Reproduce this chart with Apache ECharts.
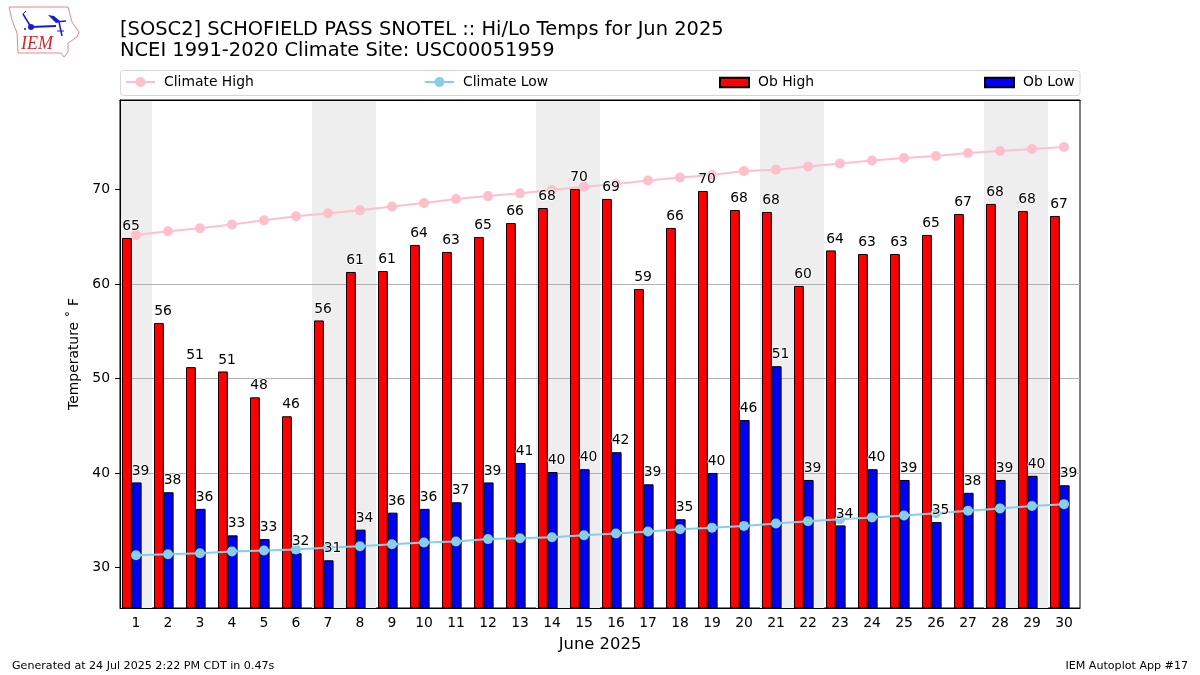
<!DOCTYPE html>
<html>
<head>
<meta charset="utf-8">
<title>Hi/Lo Temps</title>
<script src="https://cdn.jsdelivr.net/npm/echarts@6/dist/echarts.min.js"></script>
<style>
  html, body { margin: 0; padding: 0; background: #fff; }
  #J_Chart { width: 1200px; height: 675px; }
</style>
</head>
<body>
<div id="J_Chart"></div>
<script>
const days = ['1','2','3','4','5','6','7','8','9','10','11','12','13','14','15','16','17','18','19','20','21','22','23','24','25','26','27','28','29','30'];
const obHigh = [64.87,55.87,51.2,50.74,48.0,46.0,56.14,61.27,61.37,64.13,63.39,64.97,66.45,68.04,70.05,69.0,59.47,65.93,69.84,67.83,67.62,59.79,63.55,63.17,63.17,65.19,67.41,68.47,67.72,67.2];
const obLow = [39.0,37.96,36.2,33.4,33.0,31.5,30.76,34.0,35.8,36.2,36.9,39.0,41.06,40.1,40.4,42.2,38.8,35.1,40.0,45.6,51.3,39.26,34.45,40.4,39.26,34.8,37.9,39.26,39.7,38.7];
const climateHigh = [65.19,65.58,65.9,66.3,66.74,67.16,67.48,67.8,68.2,68.57,69.0,69.3,69.6,69.95,70.3,70.58,70.95,71.27,71.53,71.96,72.1,72.43,72.75,73.07,73.33,73.55,73.86,74.07,74.28,74.5];
const climateLow = [31.29,31.4,31.5,31.7,31.8,31.9,32.1,32.25,32.45,32.65,32.75,33.0,33.1,33.2,33.4,33.6,33.8,34.05,34.2,34.4,34.65,34.9,35.1,35.3,35.5,35.75,36.0,36.25,36.5,36.7];
const weekendDays = ['1','7','8','14','15','21','22','28','29'];
const yTicks = [30,40,50,60,70];

const FONT = '"DejaVu Sans"';
const Y_MIN = 25.71;
const Y_MAX = 79.47;
const BAR_WIDTH = 9.8;
const BLUE = '#1a1ad0';

const legendFor = (name, left, isBar) => ({
  data: isBar ? [{ name, icon: 'rect' }] : [name],
  left,
  top: isBar ? 75.5 : 75,
  padding: 0,
  itemWidth: 29,
  itemHeight: isBar ? 9.5 : 12.5,
  lineStyle: { width: 2 },
  textStyle: { fontFamily: FONT, fontSize: 13.9, color: '#000', padding: [0, 0, 0, 4] },
  selectedMode: false,
});

// labels sit in their own series so they stay on top of the climate lines
const labelSeries = (data, dx) => ({
  type: 'line',
  data,
  z: 8,
  silent: true,
  symbol: 'circle',
  symbolSize: 1,
  itemStyle: { color: 'transparent' },
  lineStyle: { width: 0, opacity: 0 },
  label: {
    show: true,
    position: 'top',
    distance: 4,
    offset: [dx, 0],
    color: '#000',
    fontFamily: FONT,
    fontSize: 13.9,
    textBorderColor: '#fff',
    textBorderWidth: 1.5,
    formatter: (p) => String(Math.round(p.value)),
  },
});

const logo = [
  { type: 'polyline', shape: { points: [[9,7],[68,7],[72,22],[79,32],[77,37],[68,43],[68,52],[64,57],[61,53],[18,53],[17,33],[12,20],[9,7]] },
    style: { fill: 'none', stroke: '#e08a8a', lineWidth: 1 } },
  { type: 'line', shape: { x1: 31, y1: 27, x2: 56, y2: 26 }, style: { stroke: BLUE, lineWidth: 2 } },
  { type: 'line', shape: { x1: 56, y1: 22, x2: 66, y2: 21 }, style: { stroke: BLUE, lineWidth: 1.5 } },
  { type: 'line', shape: { x1: 31, y1: 27, x2: 23, y2: 14 }, style: { stroke: BLUE, lineWidth: 1.5 } },
  { type: 'line', shape: { x1: 23, y1: 14, x2: 26, y2: 11 }, style: { stroke: BLUE, lineWidth: 1 } },
  { type: 'circle', shape: { cx: 31, cy: 27, r: 3 }, style: { fill: BLUE } },
  { type: 'polygon', shape: { points: [[48,15],[54,16],[60,21],[56,23]] }, style: { fill: BLUE } },
  { type: 'line', shape: { x1: 59, y1: 22, x2: 62, y2: 36 }, style: { stroke: BLUE, lineWidth: 1.5 } },
  { type: 'line', shape: { x1: 57, y1: 31, x2: 64, y2: 31 }, style: { stroke: BLUE, lineWidth: 1 } },
  { type: 'circle', shape: { cx: 25, cy: 29, r: 1 }, style: { fill: BLUE } },
  { type: 'text', x: 21, y: 35, style: { text: 'IEM', fontFamily: '"Liberation Serif"', fontStyle: 'italic', fontSize: 18, fill: '#d8262c' } },
];

const chart = echarts.init(document.getElementById('J_Chart'), null, { renderer: 'canvas' });
chart.setOption({
  animation: false,
  backgroundColor: '#fff',
  title: [
    { text: '[SOSC2] SCHOFIELD PASS SNOTEL :: Hi/Lo Temps for Jun 2025', left: 120, top: 20, padding: 0,
      textStyle: { fontFamily: FONT, fontSize: 19.45, fontWeight: 'normal', color: '#000' } },
    { text: 'NCEI 1991-2020 Climate Site: USC00051959', left: 120, top: 41, padding: 0,
      textStyle: { fontFamily: FONT, fontSize: 19.45, fontWeight: 'normal', color: '#000' } },
    { text: 'Generated at 24 Jul 2025 2:22 PM CDT in 0.47s', left: 12, top: 661, padding: 0,
      textStyle: { fontFamily: FONT, fontSize: 11.1, fontWeight: 'normal', color: '#000' } },
    { text: 'IEM Autoplot App #17', right: 12, top: 661, padding: 0,
      textStyle: { fontFamily: FONT, fontSize: 11.1, fontWeight: 'normal', color: '#000' } },
  ],
  legend: [
    legendFor('Climate High', 125, false),
    legendFor('Climate Low', 424, false),
    legendFor('Ob High', 719, true),
    legendFor('Ob Low', 984, true),
  ],
  graphic: [
    { type: 'rect', shape: { x: 120.5, y: 70.5, width: 959.5, height: 25, r: 3 },
      style: { fill: 'none', stroke: '#d5d5d5', lineWidth: 1 }, z: 1 },
    ...logo,
  ],
  grid: { left: 120, top: 100, width: 960, height: 508, show: true, borderColor: '#000', borderWidth: 1, backgroundColor: 'transparent' },
  xAxis: [
    {
      type: 'category',
      data: days,
      name: 'June 2025',
      nameLocation: 'middle',
      nameGap: 29,
      nameTextStyle: { fontFamily: FONT, fontSize: 16.4, color: '#000' },
      axisLine: { lineStyle: { color: '#000', width: 1 } },
      axisTick: { alignWithLabel: true, length: 5, lineStyle: { color: '#000' } },
      axisLabel: { interval: 0, fontFamily: FONT, fontSize: 13.9, color: '#000', margin: 8 },
      splitLine: { show: false },
      z: 2,
    },
    // hidden twin axis: carries the weekend shading and the top spine
    {
      type: 'category',
      data: days,
      position: 'top',
      axisLine: { show: true, lineStyle: { color: '#000', width: 1 } },
      axisTick: { show: false },
      axisLabel: { show: false },
      splitLine: { show: false },
      z: 2,
    },
  ],
  yAxis: {
    type: 'value',
    min: Y_MIN,
    max: Y_MAX,
    interval: 10,
    name: 'Temperature \u02DA F',
    nameLocation: 'middle',
    nameGap: 37,
    nameTextStyle: { fontFamily: FONT, fontSize: 13.9, color: '#000' },
    axisLine: { show: true, lineStyle: { color: '#000', width: 1 } },
    axisTick: { show: true, length: 5, customValues: yTicks, lineStyle: { color: '#000' } },
    axisLabel: { customValues: yTicks, fontFamily: FONT, fontSize: 13.9, color: '#000', margin: 10 },
    splitLine: { show: true, showMinLine: false, showMaxLine: false, lineStyle: { color: '#b0b0b0', width: 1 } },
    z: 2,
  },
  series: [
    {
      name: 'Weekend',
      type: 'bar',
      xAxisIndex: 1,
      barWidth: 32,
      z: 1,
      silent: true,
      itemStyle: { color: '#eeeeee' },
      data: days.map((d) => (weekendDays.includes(d) ? Y_MAX : null)),
    },
    {
      name: 'Ob High',
      type: 'bar',
      data: obHigh,
      barWidth: BAR_WIDTH,
      barGap: 0,
      z: 3,
      itemStyle: { color: '#ff0000', borderColor: '#000', borderWidth: 1 },
    },
    {
      name: 'Ob Low',
      type: 'bar',
      data: obLow,
      barWidth: BAR_WIDTH,
      barGap: 0,
      z: 3,
      itemStyle: { color: '#0000ff', borderColor: '#000', borderWidth: 1 },
    },
    // empty third slot so the low bar lands on the day's centre
    { name: 'spacer', type: 'bar', data: days.map(() => null), barWidth: 8.4, barGap: 0, z: 3 },
    {
      name: 'Climate High',
      type: 'line',
      data: climateHigh,
      z: 5,
      symbol: 'circle',
      symbolSize: 10,
      itemStyle: { color: '#ffc0cb' },
      lineStyle: { color: '#ffc0cb', width: 2 },
    },
    {
      name: 'Climate Low',
      type: 'line',
      data: climateLow,
      z: 5,
      symbol: 'circle',
      symbolSize: 10,
      itemStyle: { color: '#87ceeb' },
      lineStyle: { color: '#87ceeb', width: 2 },
    },
    labelSeries(obHigh, -5),
    labelSeries(obLow, 4.5),
  ],
});
</script>
</body>
</html>
